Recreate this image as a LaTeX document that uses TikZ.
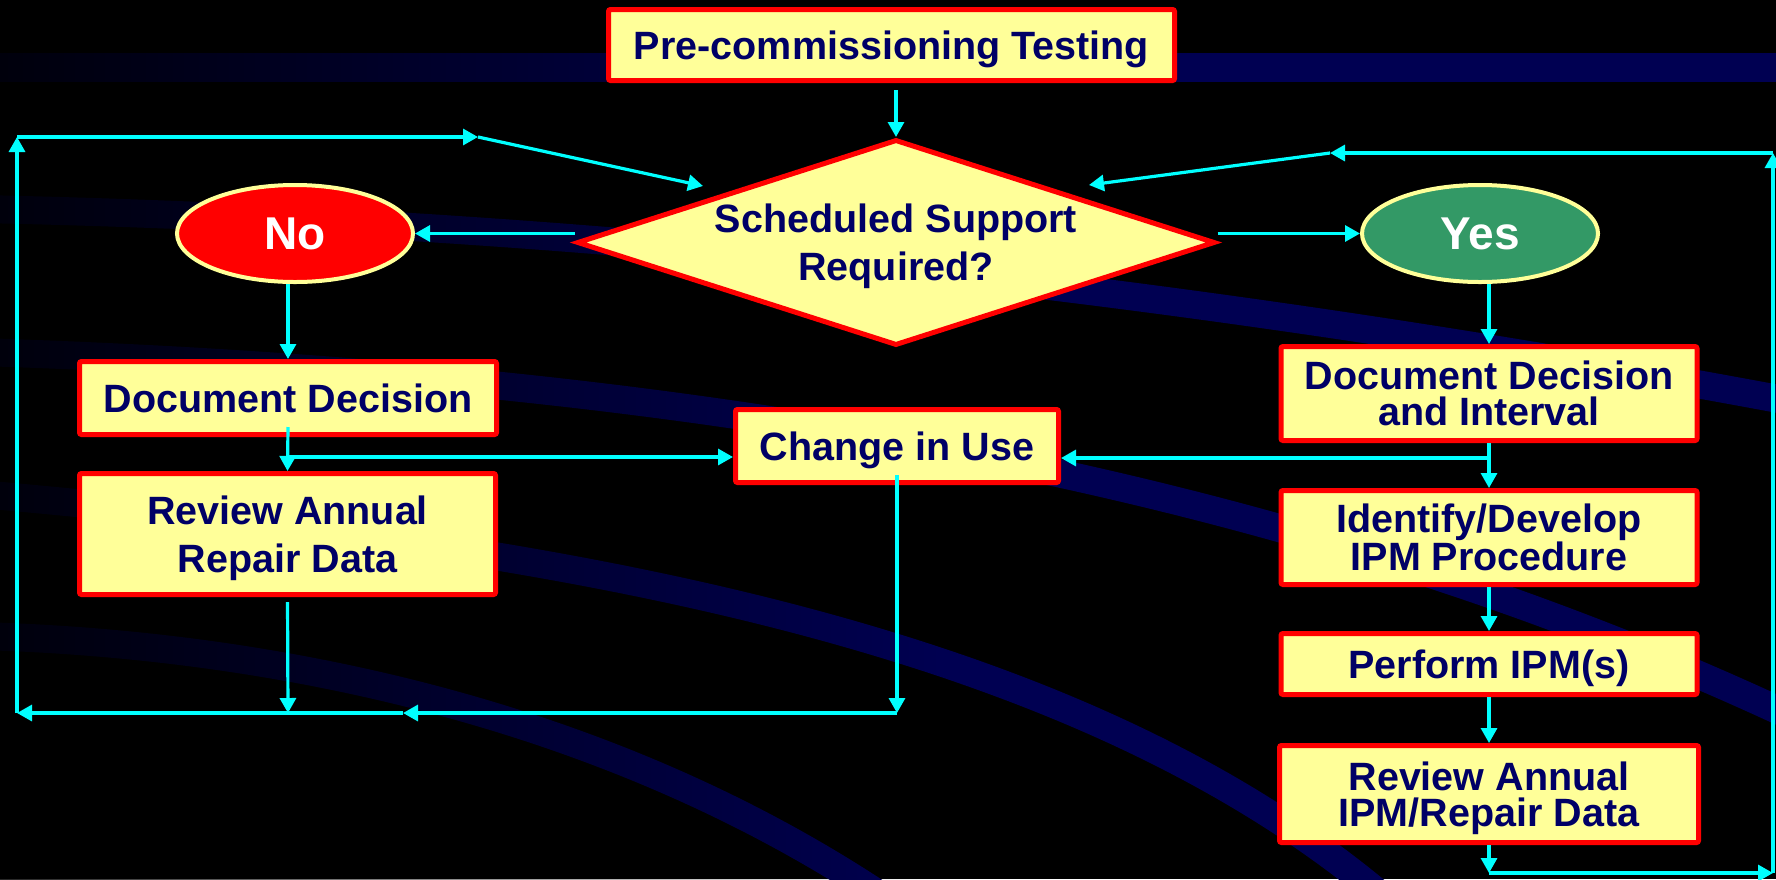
\documentclass[tikz,border=0pt]{standalone}
\usepackage{fontspec}
\setmainfont{Liberation Sans}
\usepackage{xcolor}
\usepackage{tikz}
\usetikzlibrary{arrows.meta, positioning, shapes.geometric, fadings, calc}
\definecolor{boxred}{HTML}{FF0000}
\definecolor{boxfill}{HTML}{FFFF99}
\definecolor{boxink}{HTML}{000066}
\definecolor{flowcyan}{HTML}{00FFFF}
\definecolor{bandnavy}{HTML}{000052}
\definecolor{yesgreen}{HTML}{339966}
\tikzset{
  stepbox/.style={rectangle, draw=boxred, fill=boxfill, line width=5pt, rounded corners=2pt, align=center,
    inner sep=0pt, text depth=0pt, text=boxink, font=\bfseries\fontsize{39.5}{36}\selectfont},
  widebox/.style={stepbox, font=\bfseries\fontsize{39.5}{48}\selectfont},
  askbox/.style={diamond, aspect=3.1, draw=boxred, fill=boxfill, line width=5pt, align=center,
    inner sep=0pt, text depth=0pt, minimum width=638pt, minimum height=206pt, text=boxink,
    font=\bfseries\fontsize{39.5}{48}\selectfont},
  answer/.style={ellipse, draw=boxfill, line width=4pt, inner sep=0pt, minimum width=236pt, minimum height=97pt,
    text=white, font=\bfseries\fontsize{46}{50}\selectfont},
  band/.style={draw=bandnavy, line width=28pt},
  flow/.style={-{Triangle[length=15pt, width=16pt]}, draw=flowcyan, line width=3.2pt}
}
\begin{document}
\begin{tikzpicture}[x=1pt, y=-1pt]
\useasboundingbox (0,0) rectangle (1776,879);
\fill[black] (0,0) rectangle (1776,879);
\begin{scope}
\clip (0,0) rectangle (1776,879);
\fill[bandnavy] (0,53) rectangle (1776,82);
\draw[band] (-20,209) .. controls (600,222) and (1200,290) .. (1800,403);
\draw[band] (-20,352) .. controls (700,375) and (1300,480) .. (1820,730);
\draw[band] (-20,494) .. controls (550,545) and (1100,630) .. (1420,930);
\draw[band] (-20,636) .. controls (300,645) and (650,725) .. (930,930);
\fill[black, path fading=east, fill opacity=0.85] (0,0) rectangle (950,879);
\end{scope}

\node[stepbox, minimum width=566pt, minimum height=71pt] (pre) at (891.5,45) {Pre-commissioning Testing};
\node[askbox] (ask) at (896,242.5) {Scheduled Support\\Required?};
\node[answer, fill=boxred] (no) at (295,233.5) {No};
\node[answer, fill=yesgreen] (yes) at (1480,233.5) {Yes};
\node[stepbox, minimum width=417pt, minimum height=73pt] (dec) at (288,398) {Document Decision};
\node[widebox, minimum width=416pt, minimum height=121pt] (revrep) at (287.5,534) {Review Annual\\Repair Data};
\node[stepbox, minimum width=323pt, minimum height=73pt] (use) at (897,446) {Change in Use};
\node[stepbox, minimum width=416pt, minimum height=94pt] (decint) at (1489,393.5) {Document Decision\\and Interval};
\node[stepbox, minimum width=416pt, minimum height=94pt] (proc) at (1489,537.5) {Identify/Develop\\IPM Procedure};
\node[stepbox, minimum width=416pt, minimum height=61pt] (perf) at (1489,664) {Perform IPM(s)};
\node[stepbox, minimum width=419pt, minimum height=97pt] (revipm) at (1489,794) {Review Annual\\IPM/Repair Data};

\coordinate (jl) at (288,457); \coordinate (jr) at (1489,458);
\coordinate (bl) at (288,713); \coordinate (bm) at (897,713); \coordinate (bh) at (403,713);
\coordinate (bc) at (17,713); \coordinate (tc) at (17,137); \coordinate (th) at (478,137); \coordinate (ld) at (703,186);
\coordinate (rb) at (1489,873); \coordinate (rc) at (1773,873); \coordinate (rt) at (1773,153);
\coordinate (rh) at (1330,153); \coordinate (rd) at (1089,185);

\draw[flow, shorten <=7pt] (ask.north |- pre.south) -- (ask.north);
\draw[flow] (ask.west |- no) -- (no.east); \draw[flow] (ask.east |- yes) -- (yes.west);
\draw[flow] (no.south -| dec.north) -- (dec.north); \draw[flow] ([yshift=10pt]dec.south) -- (revrep.north);
\draw[flow] (jl) -- (jl -| use.west); \draw[flow] (jr) -- (jr -| use.east);
\draw[flow, shorten <=5pt] (revrep.south) -- (bl); \draw[flow] ([yshift=10pt]use.south) -- (bm);
\draw[flow] (bm) -- (bh); \draw[flow] (bh) -- (bc); \draw[flow] (bc) -- (tc);
\draw[flow] (tc) -- (th); \draw[flow] (th) -- (ld);
\draw[flow] (yes.south -| decint.north) -- (decint.north); \draw[flow] (decint) -- (proc);
\draw[flow] (proc) -- (perf); \draw[flow] (perf) -- (revipm);
\draw[flow] (revipm.south) -- (rb); \draw[flow] (rb) -- (rc); \draw[flow] (rc) -- (rt);
\draw[flow] (rt) -- (rh); \draw[flow] (rh) -- (rd);
\end{tikzpicture}
\end{document}
